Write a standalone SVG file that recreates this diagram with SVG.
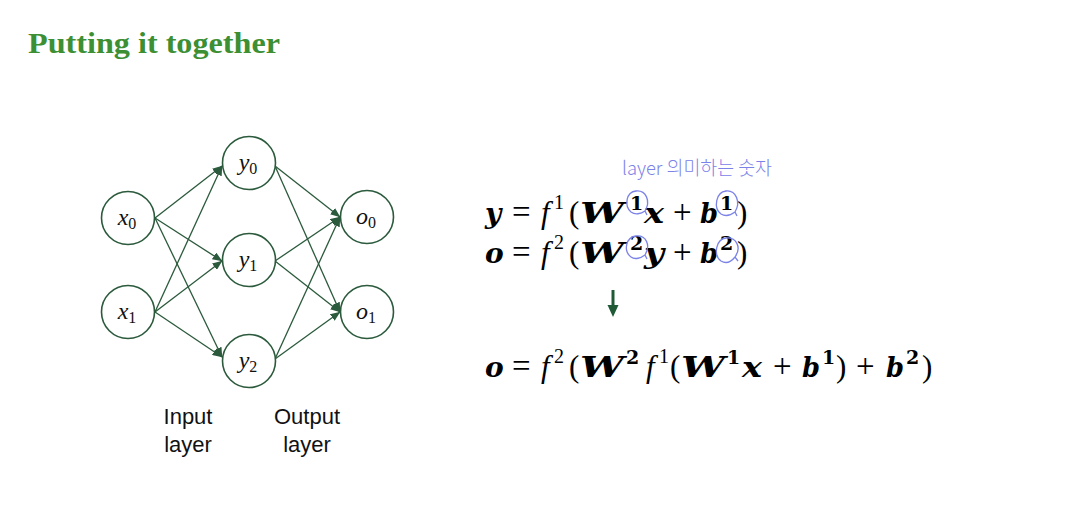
<svg xmlns="http://www.w3.org/2000/svg" width="1090" height="514" viewBox="0 0 1090 514">
<defs>
<marker id="ah" markerWidth="10" markerHeight="8" refX="9.5" refY="4" orient="auto" markerUnits="userSpaceOnUse">
<path d="M0,0 L10,4 L0,8 z" fill="#2b5a3c"/>
</marker>
<style>
.node circle{fill:#fff;stroke:#2b5a3c;stroke-width:1.6}
.node text{font-family:"Liberation Serif",serif;font-style:italic;font-size:24px;fill:#111;text-anchor:middle}
.sub{font-style:normal;font-size:16px}
.edges line{stroke:#2b5a3c;stroke-width:1.3;marker-end:url(#ah)}
.eq{font-family:"Liberation Serif",serif;font-size:31px;fill:#000}
.op{font-size:33px}
.bv{font-family:"DejaVu Serif",serif;font-size:28px;font-weight:bold;font-style:italic}
.it{font-style:italic}
.sup{font-size:20px}
.bs{font-family:"DejaVu Serif",serif;font-size:19px;font-weight:bold}
.lbl{font-family:"Liberation Sans",sans-serif;font-size:22px;fill:#111;text-anchor:middle}
.hand{fill:none;stroke:#7b82e8;stroke-width:1.3}
</style>
</defs>
<rect width="1090" height="514" fill="#fff"/>
<text x="28" y="53" font-family="Liberation Serif,serif" font-weight="bold" font-size="30" fill="#3d8f33" textLength="252" lengthAdjust="spacingAndGlyphs">Putting it together</text>

<g class="edges">
<line x1="155" y1="218" x2="222" y2="166"/>
<line x1="155" y1="218" x2="222" y2="261"/>
<line x1="155" y1="218" x2="222" y2="357"/>
<line x1="155" y1="312" x2="222" y2="166"/>
<line x1="155" y1="312" x2="222" y2="261"/>
<line x1="155" y1="312" x2="222" y2="357"/>
<line x1="275" y1="166" x2="340" y2="217"/>
<line x1="275" y1="166" x2="340" y2="312"/>
<line x1="275" y1="261" x2="340" y2="217"/>
<line x1="275" y1="261" x2="340" y2="312"/>
<line x1="275" y1="359" x2="340" y2="217"/>
<line x1="275" y1="359" x2="340" y2="312"/>
</g>

<g id="x0" class="node"><circle cx="128" cy="218" r="26.5"/><text x="127" y="225">x<tspan class="sub" dy="4">0</tspan></text></g>
<g id="x1" class="node"><circle cx="128" cy="312" r="26.5"/><text x="127" y="319">x<tspan class="sub" dy="4">1</tspan></text></g>
<g id="y0" class="node"><circle cx="249" cy="163" r="26.5"/><text x="248" y="170">y<tspan class="sub" dy="4">0</tspan></text></g>
<g id="y1" class="node"><circle cx="249" cy="260" r="26.5"/><text x="248" y="267">y<tspan class="sub" dy="4">1</tspan></text></g>
<g id="y2" class="node"><circle cx="249" cy="361" r="26.5"/><text x="248" y="368">y<tspan class="sub" dy="4">2</tspan></text></g>
<g id="o0" class="node"><circle cx="367" cy="217" r="26.5"/><text x="366" y="224">o<tspan class="sub" dy="4">0</tspan></text></g>
<g id="o1" class="node"><circle cx="367" cy="312" r="26.5"/><text x="366" y="319">o<tspan class="sub" dy="4">1</tspan></text></g>

<text class="lbl" x="188" y="424">Input</text>
<text class="lbl" x="188" y="452">layer</text>
<text class="lbl" x="307" y="424">Output</text>
<text class="lbl" x="307" y="452">layer</text>

<g id="eq1"><text class="eq"><tspan class="bv" x="485" y="223">y</tspan><tspan class="op" x="512" y="223">=</tspan><tspan class="it" x="541" y="223">f</tspan><tspan class="sup" x="554" y="209">1</tspan><tspan x="569" y="223">(</tspan><tspan class="bv" x="580" y="223" textLength="44" lengthAdjust="spacingAndGlyphs">W</tspan><tspan class="bs" x="630" y="210">1</tspan><tspan class="bv" x="644" y="223" textLength="20" lengthAdjust="spacingAndGlyphs">x</tspan><tspan class="op" x="673" y="223">+</tspan><tspan class="bv" x="700" y="223" textLength="18" lengthAdjust="spacingAndGlyphs">b</tspan><tspan class="bs" x="720" y="210">1</tspan><tspan x="737" y="223">)</tspan></text></g>
<g id="eq2"><text class="eq"><tspan class="bv" x="485" y="263">o</tspan><tspan class="op" x="512" y="263">=</tspan><tspan class="it" x="541" y="263">f</tspan><tspan class="sup" x="554" y="249">2</tspan><tspan x="569" y="263">(</tspan><tspan class="bv" x="580" y="263" textLength="44" lengthAdjust="spacingAndGlyphs">W</tspan><tspan class="bs" x="630" y="250">2</tspan><tspan class="bv" x="644" y="263" textLength="20" lengthAdjust="spacingAndGlyphs">y</tspan><tspan class="op" x="673" y="263">+</tspan><tspan class="bv" x="700" y="263" textLength="18" lengthAdjust="spacingAndGlyphs">b</tspan><tspan class="bs" x="720" y="250">2</tspan><tspan x="737" y="263">)</tspan></text></g>

<g id="arrow"><line x1="613" y1="290" x2="613" y2="307" stroke="#1f5a36" stroke-width="3"/><path d="M607.5,305 L618.5,305 L613,317 z" fill="#1f5a36"/></g>

<g id="eq3"><text class="eq"><tspan class="bv" x="485" y="377">o</tspan><tspan class="op" x="512" y="377">=</tspan><tspan class="it" x="541" y="377">f</tspan><tspan class="sup" x="554" y="363">2</tspan><tspan x="569" y="377">(</tspan><tspan class="bv" x="580" y="377" textLength="44" lengthAdjust="spacingAndGlyphs">W</tspan><tspan class="bs" x="626" y="364">2</tspan><tspan class="it" x="646" y="377">f</tspan><tspan class="sup" x="659" y="363">1</tspan><tspan x="670" y="377">(</tspan><tspan class="bv" x="681" y="377" textLength="44" lengthAdjust="spacingAndGlyphs">W</tspan><tspan class="bs" x="727" y="364">1</tspan><tspan class="bv" x="742" y="377" textLength="20" lengthAdjust="spacingAndGlyphs">x</tspan><tspan class="op" x="773" y="377">+</tspan><tspan class="bv" x="802" y="377" textLength="18" lengthAdjust="spacingAndGlyphs">b</tspan><tspan class="bs" x="822" y="364">1</tspan><tspan x="836" y="377">)</tspan><tspan class="op" x="856" y="377">+</tspan><tspan class="bv" x="886" y="377" textLength="18" lengthAdjust="spacingAndGlyphs">b</tspan><tspan class="bs" x="906" y="364">2</tspan><tspan x="922" y="377">)</tspan></text></g>

<g id="annotation">
<text x="622" y="175" font-family="Noto Sans CJK KR,sans-serif" font-weight="300" font-size="19" fill="#7b82e8" textLength="150" lengthAdjust="spacingAndGlyphs">layer 의미하는 숫자</text>
<path class="hand" d="M645,211 C651,201 646,190 636,191 C626,192 624,206 631,212 C635,215 641,214 645,211 L647,215"/>
<path class="hand" d="M735,212 C741,202 736,190 726,191 C716,192 713,208 721,214 C726,217 731,215 735,212 L737,216"/>
<path class="hand" d="M645,255 C651,245 646,235 636,236 C626,237 623,251 631,257 C635,260 641,258 645,255 L647,259"/>
<path class="hand" d="M735,257 C742,247 736,237 726,238 C716,239 713,255 721,261 C726,264 731,262 735,257 L738,261"/>
</g>
</svg>
